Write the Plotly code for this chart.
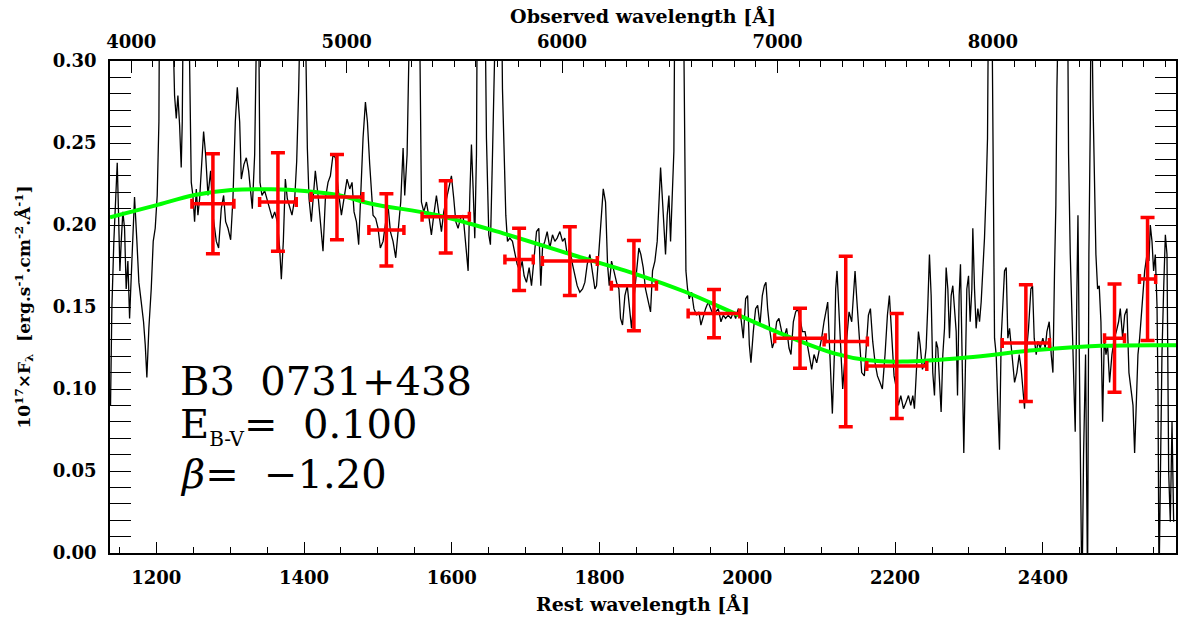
import plotly.graph_objects as go

# ---------------- data ----------------
ONE_PLUS_Z = 3.43
REST_RANGE = [1137.4, 2580.2]

spec_wave = [
    1138.1, 1139.9, 1142.6, 1144.9, 1147.2, 1149.0, 1150.8, 1152.6, 1154.8, 1157.1,
    1159.3, 1161.6, 1163.9, 1167.0, 1170.6, 1173.8, 1176.5, 1179.7, 1182.8, 1185.1,
    1187.3, 1190.0, 1193.2, 1195.9, 1198.6, 1201.3, 1203.6, 1205.0, 1215.8, 1224.8,
    1227.1, 1229.3, 1231.6, 1233.8, 1235.2, 1237.0, 1240.6, 1245.1, 1247.4, 1249.6,
    1251.9, 1254.2, 1256.4, 1258.7, 1260.9, 1264.1, 1266.8, 1270.0, 1273.6, 1276.7,
    1281.3, 1284.4, 1288.0, 1291.2, 1293.9, 1297.1, 1300.7, 1303.8, 1307.0, 1309.7,
    1312.9, 1315.1, 1318.7, 1321.9, 1325.0, 1327.8, 1330.0, 1333.2, 1335.4, 1337.7,
    1340.4, 1343.1, 1346.7, 1349.9, 1353.5, 1357.1, 1360.3, 1363.9, 1367.0, 1369.3,
    1372.0, 1374.7, 1377.4, 1380.6, 1383.7, 1387.4, 1390.1, 1392.8, 1398.6, 1404.5,
    1406.8, 1409.9, 1412.6, 1415.3, 1419.0, 1422.6, 1425.7, 1428.9, 1432.5, 1435.7,
    1439.3, 1442.4, 1446.1, 1450.6, 1455.1, 1458.2, 1461.9, 1465.0, 1467.7, 1470.9,
    1474.0, 1476.7, 1479.9, 1483.1, 1485.8, 1488.9,
    1493.4, 1497.0, 1500.2, 1503.3, 1507.0, 1510.6, 1513.7, 1516.9, 1520.5, 1524.1,
    1527.3, 1530.9, 1534.1, 1536.3, 1539.5, 1541.7, 1543.5, 1549.9, 1555.7, 1557.5,
    1558.9, 1562.1, 1565.7, 1569.3, 1572.4, 1575.6, 1579.2, 1582.8, 1586.0, 1589.1,
    1592.7, 1596.4, 1599.5, 1602.7, 1605.4, 1608.5, 1611.7, 1615.3, 1618.9, 1622.1,
    1624.4, 1626.6, 1628.9, 1631.1, 1633.4, 1634.7, 1642.4, 1646.9, 1650.1, 1652.3,
    1655.1, 1656.9, 1659.6, 1665.0, 1668.6, 1670.9, 1673.1, 1675.4, 1678.5, 1682.1,
    1685.3, 1688.5, 1692.1, 1695.2, 1697.9, 1701.1, 1704.7, 1707.9, 1711.0, 1714.7,
    1717.8, 1720.5, 1722.8, 1725.9, 1729.1, 1732.7, 1736.3, 1739.5, 1742.6, 1746.3,
    1749.9, 1753.0, 1756.2, 1759.8, 1763.4, 1766.6, 1769.7, 1773.3, 1777.0, 1780.1,
    1783.3, 1786.9, 1790.5, 1793.7, 1795.9, 1799.1, 1801.8, 1805.0, 1808.1, 1810.8,
    1813.1, 1816.2, 1819.4, 1823.0, 1826.2, 1828.4, 1831.1, 1834.3, 1837.5, 1840.2,
    1843.3, 1846.5, 1850.1, 1853.2,
    1855.9, 1859.1, 1862.2, 1865.9, 1869.0, 1871.7, 1874.9, 1878.0, 1880.3, 1882.6,
    1884.8, 1887.5, 1889.3, 1891.6, 1893.9, 1896.1, 1898.4, 1900.6, 1902.0, 1907.8,
    1913.3, 1914.6, 1915.5, 1916.9, 1919.1, 1921.4, 1924.6, 1927.7, 1931.3, 1934.5,
    1937.2, 1940.4, 1943.5, 1947.1, 1950.7, 1953.9, 1957.1, 1960.7, 1964.3, 1967.4,
    1970.6, 1974.2, 1977.8, 1981.0, 1984.2, 1987.8, 1991.4, 1994.5, 1997.7, 2000.4,
    2002.7, 2004.9, 2008.1, 2011.2, 2014.0, 2017.1, 2020.3, 2023.0, 2025.2, 2027.5,
    2030.7, 2033.8, 2036.5, 2039.7, 2042.8, 2046.5, 2049.6, 2053.2, 2056.4, 2059.1,
    2062.3, 2065.4, 2068.1, 2071.3, 2074.5, 2078.1, 2081.2, 2083.9, 2087.1, 2090.3,
    2093.9, 2097.0, 2100.6, 2103.8, 2106.5, 2108.8, 2111.0, 2113.3, 2115.1, 2117.8,
    2119.6, 2121.4, 2124.1, 2126.8, 2129.1, 2131.3, 2134.5, 2137.7, 2141.3, 2144.0,
    2145.8, 2148.1, 2151.2, 2154.8, 2158.4, 2160.7, 2163.9, 2166.6, 2169.7, 2172.9,
    2176.1, 2179.6, 2182.8, 2186.4, 2189.6, 2192.3, 2195.5, 2198.6, 2201.8, 2204.5,
    2207.7, 2211.3,
    2214.9, 2218.1, 2221.2, 2224.0, 2226.2, 2228.5, 2231.6, 2233.9, 2237.0, 2239.8,
    2242.0, 2244.3, 2246.5, 2248.8, 2251.0, 2253.3, 2255.6, 2257.8, 2260.1, 2262.3,
    2264.6, 2266.9, 2269.1, 2271.4, 2273.6, 2275.9, 2278.1, 2280.4, 2282.7, 2284.5,
    2286.7, 2288.5, 2290.3, 2291.7, 2293.0, 2294.8, 2297.1, 2299.4, 2301.6, 2303.9,
    2305.2, 2307.5, 2309.7, 2312.0, 2314.3, 2316.5, 2318.8, 2321.0, 2323.3, 2325.1,
    2326.4, 2328.7, 2331.0, 2332.3, 2333.2, 2334.6, 2336.8, 2339.1, 2341.3, 2343.6,
    2345.9, 2348.1, 2350.4, 2352.6, 2354.9, 2357.2, 2359.4, 2361.7, 2364.8, 2368.0,
    2370.7, 2373.0, 2375.2, 2377.5, 2380.6, 2383.8, 2386.0, 2388.3, 2391.0, 2393.3,
    2396.4, 2400.0, 2403.2, 2405.5, 2408.6, 2411.3, 2413.6, 2415.8, 2417.6, 2419.0,
    2425.8, 2432.6, 2434.8, 2437.1, 2439.3, 2441.6, 2443.8, 2446.1, 2447.5, 2449.3,
    2451.1, 2452.9, 2455.1, 2457.8, 2460.5, 2462.3, 2464.2, 2465.5, 2467.8, 2469.6,
    2471.8, 2474.1, 2476.3, 2478.6, 2480.9, 2483.1, 2485.4, 2487.6, 2490.3, 2493.5,
    2496.7, 2499.4, 2502.5, 2504.8, 2508.0, 2510.7, 2513.8, 2516.5, 2519.2, 2522.0,
    2524.2, 2526.5, 2528.7, 2531.0, 2533.2, 2535.5, 2537.8, 2540.9, 2543.6, 2545.4,
    2547.7, 2549.9, 2552.2, 2554.5, 2555.8, 2557.2, 2559.0, 2561.2, 2563.5, 2565.8,
    2568.0, 2570.3, 2572.5, 2574.8, 2577.0,
]

spec_flux = [
    0.090, 0.149, 0.190, 0.218, 0.238, 0.206, 0.172, 0.190, 0.208, 0.198,
    0.161, 0.178, 0.143, 0.178, 0.217, 0.190, 0.165, 0.153, 0.141, 0.127,
    0.107, 0.137, 0.161, 0.190, 0.198, 0.218, 0.263, 0.400, 0.450, 0.279,
    0.265, 0.279, 0.261, 0.235, 0.263, 0.360, 0.400, 0.300, 0.226, 0.218,
    0.202, 0.222, 0.206, 0.216, 0.235, 0.257, 0.243, 0.218, 0.233, 0.206,
    0.190, 0.186, 0.210, 0.218, 0.202, 0.198, 0.191, 0.216, 0.263, 0.284,
    0.263, 0.228, 0.237, 0.241, 0.233, 0.222, 0.210, 0.243, 0.283, 0.380,
    0.226, 0.218, 0.221, 0.216, 0.210, 0.204, 0.208, 0.202, 0.186, 0.167,
    0.190, 0.228, 0.216, 0.210, 0.206, 0.216, 0.239, 0.283, 0.420, 0.247,
    0.216, 0.202, 0.218, 0.233, 0.218, 0.202, 0.184, 0.216, 0.226, 0.230,
    0.243, 0.241, 0.222, 0.206, 0.218, 0.228, 0.222, 0.226, 0.208, 0.202,
    0.188, 0.216, 0.253, 0.275, 0.263, 0.237,
    0.206, 0.204, 0.198, 0.186, 0.190, 0.202, 0.212, 0.196, 0.190, 0.180,
    0.198, 0.214, 0.247, 0.218, 0.243, 0.283, 0.380, 0.500, 0.360, 0.257,
    0.214, 0.208, 0.214, 0.204, 0.194, 0.206, 0.218, 0.206, 0.196, 0.208,
    0.216, 0.222, 0.230, 0.216, 0.202, 0.198, 0.204, 0.206, 0.190, 0.172,
    0.218, 0.249, 0.222, 0.192, 0.243, 0.360, 0.450, 0.253, 0.194, 0.188,
    0.243, 0.283, 0.400, 0.450, 0.283, 0.243, 0.206, 0.190, 0.192, 0.190,
    0.182, 0.176, 0.172, 0.178, 0.169, 0.165, 0.174, 0.163, 0.178, 0.196,
    0.198, 0.163, 0.186, 0.190, 0.196, 0.186, 0.194, 0.190, 0.192, 0.196,
    0.190, 0.192, 0.182, 0.186, 0.176, 0.169, 0.163, 0.159, 0.161, 0.165,
    0.176, 0.182, 0.172, 0.161, 0.163, 0.186, 0.206, 0.222, 0.214, 0.176,
    0.163, 0.178, 0.172, 0.165, 0.161, 0.143, 0.139, 0.157, 0.163, 0.149,
    0.137, 0.155, 0.172, 0.186,
    0.182, 0.174, 0.161, 0.153, 0.147, 0.172, 0.178, 0.190, 0.212, 0.235,
    0.218, 0.192, 0.182, 0.206, 0.218, 0.190, 0.222, 0.245, 0.350, 0.450,
    0.350, 0.273, 0.202, 0.172, 0.161, 0.155, 0.159, 0.149, 0.145, 0.147,
    0.139, 0.145, 0.149, 0.153, 0.149, 0.145, 0.147, 0.149, 0.141, 0.145,
    0.143, 0.145, 0.143, 0.147, 0.143, 0.149, 0.143, 0.131, 0.155, 0.157,
    0.127, 0.116, 0.135, 0.149, 0.151, 0.139, 0.157, 0.163, 0.165, 0.149,
    0.135, 0.125, 0.129, 0.141, 0.143, 0.135, 0.131, 0.137, 0.125, 0.121,
    0.141, 0.147, 0.149, 0.143, 0.135, 0.135, 0.127, 0.121, 0.112, 0.121,
    0.116, 0.123, 0.131, 0.141, 0.149, 0.153, 0.129, 0.100, 0.085, 0.121,
    0.161, 0.172, 0.145, 0.121, 0.100, 0.114, 0.131, 0.147, 0.141, 0.165,
    0.172, 0.155, 0.131, 0.110, 0.108, 0.123, 0.145, 0.149, 0.129, 0.116,
    0.108, 0.104, 0.100, 0.121, 0.145, 0.157, 0.131, 0.108, 0.100, 0.090,
    0.096, 0.088,
    0.092, 0.096, 0.090, 0.096, 0.088, 0.110, 0.135, 0.127, 0.112, 0.116,
    0.125, 0.151, 0.182, 0.157, 0.110, 0.096, 0.129, 0.125, 0.108, 0.086,
    0.121, 0.137, 0.174, 0.161, 0.131, 0.157, 0.163, 0.145, 0.135, 0.096,
    0.157, 0.176, 0.131, 0.090, 0.061, 0.104, 0.161, 0.169, 0.141, 0.161,
    0.198, 0.161, 0.137, 0.149, 0.141, 0.153, 0.172, 0.192, 0.222, 0.253,
    0.340, 0.400, 0.340, 0.283, 0.212, 0.131, 0.121, 0.090, 0.063, 0.131,
    0.149, 0.172, 0.174, 0.131, 0.137, 0.127, 0.114, 0.104, 0.110, 0.121,
    0.112, 0.100, 0.088, 0.121, 0.137, 0.161, 0.163, 0.131, 0.121, 0.129,
    0.125, 0.131, 0.125, 0.135, 0.141, 0.121, 0.110, 0.172, 0.212, 0.283,
    0.450, 0.400, 0.243, 0.182, 0.141, 0.100, 0.074, 0.161, 0.206, 0.121,
    -0.030, -0.030, 0.060, 0.121, -0.020, 0.182, 0.263, 0.360, 0.277, 0.222,
    0.182, 0.161, 0.163, 0.141, 0.080, 0.131, 0.121, 0.127, 0.104, 0.121,
    0.131, 0.135, 0.141, 0.149, 0.131, 0.145, 0.149, 0.110, 0.100, 0.090,
    0.061, 0.090, 0.121, 0.131, 0.145, 0.161, 0.172, 0.182, 0.178, 0.200,
    0.190, 0.172, 0.182, 0.151, 0.100, -0.020, 0.039, 0.121, 0.161, 0.194,
    0.182, 0.049, 0.019, 0.080, 0.019,
]

model_wave = [1137.4, 1198, 1252, 1301.6, 1355.8, 1400.9, 1446, 1491, 1579.2, 1669.5,
              1759.8, 1851, 1915.6, 1983.3, 2051, 2118.8, 2163.9, 2210, 2297, 2387.3,
              2477.7, 2580.2]
model_flux = [0.2047, 0.2118, 0.2183, 0.2214, 0.2218, 0.2208, 0.2183, 0.2130, 0.2061, 0.1949,
              0.1823, 0.1698, 0.1593, 0.1460, 0.1328, 0.1216, 0.1175, 0.1167, 0.1192, 0.1236,
              0.1263, 0.1267]

phot_wave = [1276.7, 1364.7, 1444.6, 1511.5, 1591.8, 1691.1, 1759.8, 1846.5, 1954.9, 2071.3,
             2133.2, 2202.3, 2377.0, 2497.0, 2541.7]
phot_flux = [0.213, 0.214, 0.217, 0.197, 0.205, 0.179, 0.178, 0.163, 0.146, 0.131,
             0.129, 0.114, 0.128, 0.131, 0.167]
phot_ferr = [0.0305, 0.030, 0.026, 0.022, 0.022, 0.019, 0.021, 0.0275, 0.0147, 0.0183,
             0.052, 0.032, 0.0356, 0.033, 0.0375]
phot_werr = [28.4, 24.8, 35, 23.7, 32, 19.2, 37.2, 30.5, 35, 34.3,
             29.3, 40.6, 32, 13.5, 11]

y_ticks = [0.00, 0.05, 0.10, 0.15, 0.20, 0.25, 0.30]

label_name = "B3  0731+438"
label_ebv = "E<sub><span style='font-size:20px'>B-V</span></sub>=  0.100"
label_beta = "<i>β</i>=  −1.20"

# ---------------- figure ----------------
SERIF = "DejaVu Serif"
tick_font = dict(family=SERIF, size=18, color="black", weight="bold")
title_font = dict(family=SERIF, size=19, color="black", weight="bold")

fig = go.Figure()

fig.add_trace(go.Scatter(x=spec_wave, y=spec_flux, mode="lines",
                         line=dict(color="black", width=1.3), hoverinfo="skip",
                         showlegend=False))
fig.add_trace(go.Scatter(x=model_wave, y=model_flux, mode="lines",
                         line=dict(color="#00ff00", width=4, shape="spline", smoothing=1.0),
                         hoverinfo="skip", showlegend=False))
fig.add_trace(go.Scatter(x=phot_wave, y=phot_flux, mode="markers",
                         marker=dict(size=1, color="red"),
                         error_y=dict(type="data", array=phot_ferr, color="red",
                                      thickness=3.5, width=7),
                         error_x=dict(type="data", array=phot_werr, color="red",
                                      thickness=3.5, width=5),
                         showlegend=False))
# invisible trace to activate the observed-wavelength axis
fig.add_trace(go.Scatter(x=[w * ONE_PLUS_Z for w in model_wave], y=model_flux,
                         xaxis="x2", mode="lines", opacity=0, hoverinfo="skip",
                         showlegend=False))

fig.update_layout(
    width=1181, height=623,
    margin=dict(l=110, r=5, t=61, b=70),
    paper_bgcolor="white", plot_bgcolor="white",
    xaxis=dict(range=REST_RANGE, tick0=0, dtick=200, ticks="inside", ticklen=11,
               tickwidth=1.3, tickcolor="black", showline=True, linecolor="black",
               linewidth=1.5, showgrid=False, zeroline=False, mirror=False,
               automargin=False,
               tickfont=tick_font, ticklabelstandoff=8,
               minor=dict(dtick=50, ticks="inside", ticklen=6, tickcolor="black",
                          tickwidth=1.3, showgrid=False),
               title=dict(text="Rest wavelength [Å]", font=title_font, standoff=10)),
    xaxis2=dict(range=[REST_RANGE[0] * ONE_PLUS_Z, REST_RANGE[1] * ONE_PLUS_Z],
                overlaying="x", side="top", tick0=0, dtick=1000, ticks="inside",
                ticklen=12, tickwidth=1.3, tickcolor="black", showline=True,
                linecolor="black", linewidth=1.5, showgrid=False, zeroline=False,
                automargin=False,
                tickfont=tick_font, ticklabelstandoff=4,
                minor=dict(dtick=100, ticks="inside", ticklen=6, tickcolor="black",
                           tickwidth=1.3, showgrid=False),
                title=dict(text="Observed wavelength [Å]", font=title_font, standoff=2)),
    yaxis=dict(range=[0, 0.30], tickvals=y_ticks, tickformat=".2f", ticks="inside",
               ticklen=21, tickwidth=1.3, tickcolor="black", showline=True,
               linecolor="black", linewidth=1.5, mirror="allticks", showgrid=False,
               zeroline=False, automargin=False,
               tickfont=tick_font, ticklabelstandoff=8,
               minor=dict(dtick=0.01, tick0=0, ticks="inside", ticklen=11,
                          tickcolor="black", tickwidth=1.3, showgrid=False),
               title=dict(text="10<sup>17</sup>×F<sub>λ</sub>  [erg.s<sup>-1</sup>.cm<sup>-2</sup>.Å<sup>-1</sup>]",
                          font=dict(family=SERIF, size=17, color="black", weight="bold"),
                          standoff=18)),
)

ann_font = dict(family=SERIF, size=40, color="black")
for txt, yp in [(label_name, 0.350), (label_ebv, 0.258), (label_beta, 0.160)]:
    fig.add_annotation(text=txt, xref="paper", yref="paper", x=0.064, y=yp,
                       xanchor="left", yanchor="middle", showarrow=False, font=ann_font)

fig.write_html("out.html", config={"displayModeBar": False},
               post_script="document.body.style.margin='0';document.body.style.overflow='hidden';")
